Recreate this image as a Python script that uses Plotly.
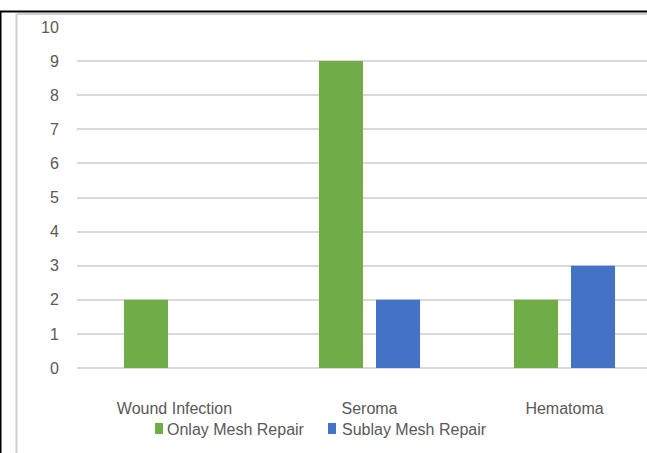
import plotly.graph_objects as go

categories = ["Wound Infection", "Seroma", "Hematoma"]
onlay = [2, 9, 2]
sublay = [0, 2, 3]
series_names = ["Onlay Mesh Repair", "Sublay Mesh Repair"]
series_colors = ["#70AD47", "#4472C4"]
y_ticks = list(range(0, 11))

FONT = "Liberation Sans, Arial, sans-serif"

fig = go.Figure()
fig.add_trace(go.Bar(x=categories, y=onlay, name=series_names[0],
                     marker=dict(color=series_colors[0], line=dict(width=0))))
fig.add_trace(go.Bar(x=categories, y=sublay, name=series_names[1],
                     marker=dict(color=series_colors[1], line=dict(width=0))))

L, T, B = 77, 27, 85
W, H = 647, 453
pw = W - L
ph = H - T - B

def px(xp):
    return (xp - L) / pw

def py(yp):
    return (H - B - yp) / ph

shapes = [
    dict(type="line", xref="paper", yref="paper", x0=px(16.5), x1=px(W + 5), y0=py(14), y1=py(14),
         line=dict(color="#d0d0d0", width=2)),
    dict(type="line", xref="paper", yref="paper", x0=px(16.5), x1=px(16.5), y0=py(14), y1=py(H + 5),
         line=dict(color="#d0d0d0", width=2)),
    dict(type="line", xref="paper", yref="paper", x0=px(0), x1=px(W + 5), y0=py(11.5), y1=py(11.5),
         line=dict(color="black", width=2)),
    dict(type="line", xref="paper", yref="paper", x0=px(0.5), x1=px(0.5), y0=py(11), y1=py(H + 5),
         line=dict(color="black", width=2)),
]
annotations = []
# legend (manual, to match the reference's compact key spacing)
legend_key_x = [155, 328]
legend_text_x = [166, 341]
for i, name in enumerate(series_names):
    shapes.append(dict(type="rect", xref="paper", yref="paper",
                       x0=px(legend_key_x[i]), x1=px(legend_key_x[i] + 8),
                       y0=py(434), y1=py(423),
                       fillcolor=series_colors[i], line=dict(width=0)))
    annotations.append(dict(text=name, xref="paper", yref="paper",
                            x=px(legend_text_x[i]), y=py(429), xanchor="left", yanchor="middle",
                            showarrow=False, borderpad=0,
                            font=dict(family=FONT, size=16, color="#595959")))

fig.update_layout(
    width=W, height=H,
    margin=dict(l=L, r=0, t=T, b=B, pad=0),
    paper_bgcolor="white", plot_bgcolor="white",
    barmode="group", bargap=0.415, bargroupgap=0.228,
    font=dict(family=FONT, size=16, color="#595959"),
    showlegend=False,
    xaxis=dict(range=[-0.5, -0.5 + pw / 195.0], showgrid=False, showline=False, zeroline=False,
               ticks="outside", ticklen=26, tickcolor="rgba(0,0,0,0)",
               tickfont=dict(family=FONT, size=16, color="#595959"), fixedrange=True),
    yaxis=dict(range=[0, 10], tickvals=y_ticks, showgrid=True, gridcolor="#d9d9d9", gridwidth=1.5,
               zeroline=True, zerolinecolor="#d9d9d9", zerolinewidth=1.5, showline=False,
               ticks="outside", ticklen=14, tickcolor="rgba(0,0,0,0)",
               tickfont=dict(family=FONT, size=16, color="#595959"), fixedrange=True),
    shapes=shapes,
    annotations=annotations,
)

fig.write_html("out.html", config={"displayModeBar": False})
